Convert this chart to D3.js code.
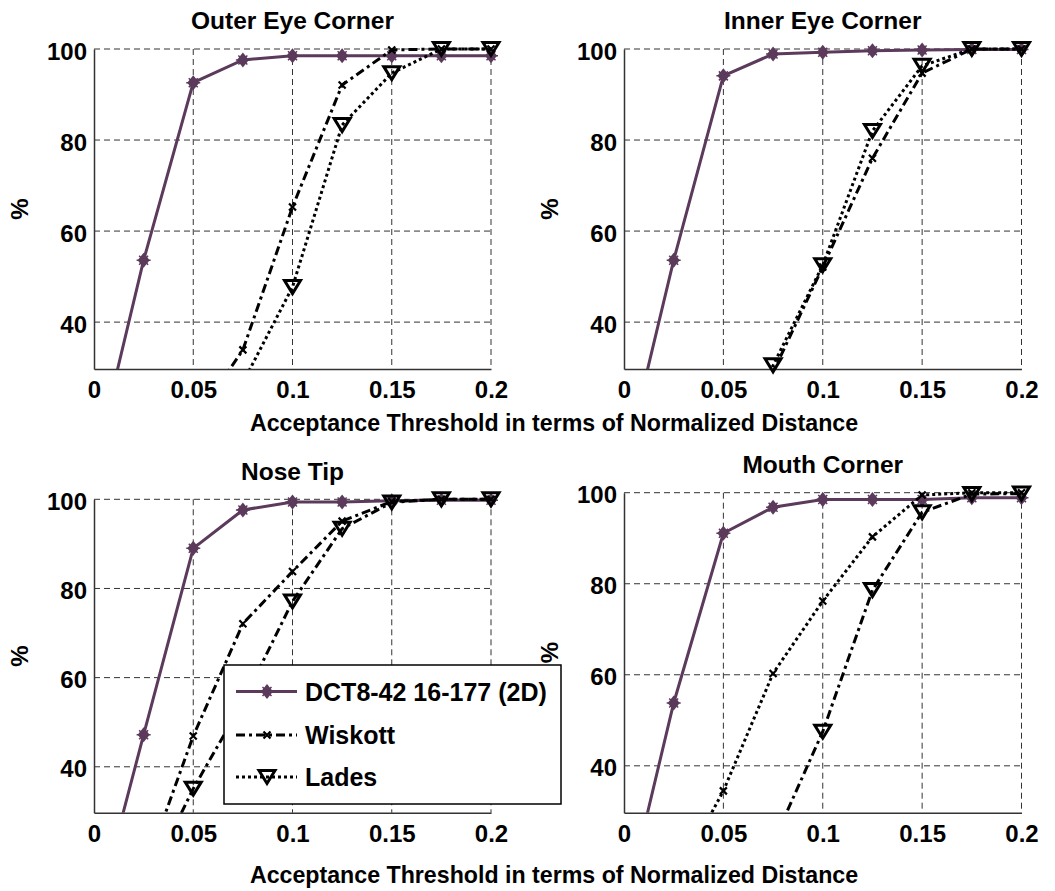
<!DOCTYPE html>
<html>
<head>
<meta charset="utf-8">
<script src="https://cdn.jsdelivr.net/npm/d3@7"></script>
<style>
  body { margin: 0; background: #fff; }
  text { font-family: "Liberation Sans", Arial, sans-serif; font-weight: bold; fill: #000; }
</style>
</head>
<body>
<div id="chart"></div>
<script>
// threshold values on the x axis
var thresholds = [0, 0.025, 0.05, 0.075, 0.1, 0.125, 0.15, 0.175, 0.2];
var xTicks = [0, 0.05, 0.1, 0.15, 0.2];
var yTicks = [40, 60, 80, 100];
var seriesNames = ["DCT8-42 16-177 (2D)", "Wiskott", "Lades"];
var panelTitles = ["Outer Eye Corner", "Inner Eye Corner", "Nose Tip", "Mouth Corner"];

// % of landmarks found
var outerDct = [8, 53.6, 92.6, 97.6, 98.5, 98.5, 98.5, 98.5, 98.5];
var outerWiskott = [0, 5, 18, 33.9, 65.3, 92.1, 99.8, 100, 100];
var outerLades = [0, 2, 10, 26.7, 47.7, 83.3, 94.7, 100, 100];

var innerDct = [8, 53.6, 94.1, 98.9, 99.3, 99.6, 99.8, 99.9, 99.9];
var innerWiskott = [0, 5, 15, 29, 52.1, 76, 94.7, 100, 100];
var innerLades = [0, 2, 10, 30.5, 52.5, 82, 96.3, 100, 100];

var noseDct = [4.7, 47.2, 89.0, 97.6, 99.4, 99.4, 99.7, 99.8, 99.8];
var noseWiskott = [0, 16.1, 46.9, 72.1, 83.8, 95.1, 99.5, 100, 100];
var noseLades = [0, 12.3, 35.1, 54.5, 77.1, 93.4, 99.3, 100, 100];

var mouthDct = [8, 53.8, 91.1, 96.8, 98.5, 98.5, 98.5, 98.9, 98.9];
var mouthWiskott = [0, 14.2, 34.5, 60.3, 76.2, 90.3, 99.5, 100, 100];
var mouthLades = [0, 5, 12, 23.1, 47.5, 78.6, 95.7, 99.7, 99.8];

var purple = "#5b3a5b";
var dashDot = "9,4,3,4";
var dotted = "3,3";

// subplot boxes (pixels)
var panels = [
  {left: 94, right: 491, top: 49, bottom: 369, titleY: 29, data: [outerDct, outerWiskott, outerLades], dash: [dashDot, dotted]},
  {left: 624, right: 1021.5, top: 49, bottom: 369, titleY: 29, data: [innerDct, innerWiskott, innerLades], dash: [dashDot, dotted]},
  {left: 94, right: 491, top: 499.3, bottom: 812.7, titleY: 480, data: [noseDct, noseWiskott, noseLades], dash: [dashDot, dashDot]},
  {left: 624, right: 1021.5, top: 492.7, bottom: 812.7, titleY: 473, data: [mouthDct, mouthWiskott, mouthLades], dash: [dotted, dashDot]}
];

var svg = d3.select("#chart")
  .append("svg")
  .attr("width", 1055)
  .attr("height", 891);

function drawMarker(g, kind, x, y) {
  if (kind === 0) {
    g.append("path")
      .attr("d", `M${x},${y - 7.5}L${x + 6},${y}L${x},${y + 7.5}L${x - 6},${y}Z`)
      .attr("fill", purple);
    g.append("path")
      .attr("d", `M${x - 7},${y}H${x + 7}M${x - 4.5},${y - 4.5}L${x + 4.5},${y + 4.5}M${x - 4.5},${y + 4.5}L${x + 4.5},${y - 4.5}`)
      .attr("stroke", purple)
      .attr("stroke-width", 1.5);
  }
  else if (kind === 1) {
    g.append("path")
      .attr("d", `M${x - 3.5},${y - 3.5}L${x + 3.5},${y + 3.5}M${x - 3.5},${y + 3.5}L${x + 3.5},${y - 3.5}`)
      .attr("stroke", "#000")
      .attr("stroke-width", 2.2);
  }
  else {
    g.append("path")
      .attr("d", `M${x - 8},${y - 6.5}L${x + 8},${y - 6.5}L${x},${y + 6.5}Z`)
      .attr("fill", "none")
      .attr("stroke", "#000")
      .attr("stroke-width", 3);
  }
}

panels.forEach(function(p, i) {
  var xScale = d3.scaleLinear().domain([0, 0.2]).range([p.left, p.right]);
  var yScale = d3.scaleLinear().domain([29.7, 100]).range([p.bottom, p.top]);

  var g = svg.append("g");

  // dashed grid
  g.selectAll(".vgrid")
    .data(xTicks.slice(1))
    .enter()
    .append("line")
    .attr("x1", d => xScale(d)).attr("x2", d => xScale(d))
    .attr("y1", p.top).attr("y2", p.bottom)
    .attr("stroke", "#333").attr("stroke-width", 1)
    .attr("stroke-dasharray", "6,4");

  g.selectAll(".hgrid")
    .data(yTicks)
    .enter()
    .append("line")
    .attr("x1", p.left).attr("x2", p.right)
    .attr("y1", d => yScale(d)).attr("y2", d => yScale(d))
    .attr("stroke", "#333").attr("stroke-width", 1)
    .attr("stroke-dasharray", "6,4");

  // axes
  var bottomAxis = d3.axisBottom(xScale).tickValues(xTicks).tickSize(0).tickPadding(12)
    .tickFormat(d => d === 0 ? "0" : String(d));
  var leftAxis = d3.axisLeft(yScale).tickValues(yTicks).tickSize(0).tickPadding(7);

  var xAxis = g.append("g")
    .attr("transform", `translate(0, ${p.bottom})`)
    .call(bottomAxis);
  var yAxis = g.append("g")
    .attr("transform", `translate(${p.left}, 0)`)
    .call(leftAxis);

  [xAxis, yAxis].forEach(function(a) {
    a.select(".domain").attr("stroke", "#333").attr("stroke-width", 1.5);
    a.selectAll("text").style("font-size", "24px").attr("fill", "#000");
  });
  xAxis.selectAll("text").attr("dy", "0.71em");
  yAxis.selectAll("text").attr("dy", "0.42em");

  // title and y label
  g.append("text")
    .attr("x", (p.left + p.right) / 2)
    .attr("y", p.titleY)
    .attr("text-anchor", "middle")
    .style("font-size", "24.5px")
    .text(panelTitles[i]);

  g.append("text")
    .attr("transform", `translate(${p.left - 66}, ${(p.top + p.bottom) / 2}) rotate(-90)`)
    .attr("text-anchor", "middle")
    .style("font-size", "24px")
    .text("%");

  // clipped lines
  var clipId = "clip" + i;
  svg.append("clipPath")
    .attr("id", clipId)
    .append("rect")
    .attr("x", p.left)
    .attr("y", p.top - 20)
    .attr("width", p.right - p.left + 20)
    .attr("height", p.bottom - p.top + 20);

  var line = d3.line()
    .x((d, j) => xScale(thresholds[j]))
    .y(d => yScale(d));

  p.data.forEach(function(values, s) {
    g.append("path")
      .datum(values)
      .attr("clip-path", `url(#${clipId})`)
      .attr("d", line)
      .attr("fill", "none")
      .attr("stroke", s === 0 ? purple : "#000")
      .attr("stroke-width", 3)
      .attr("stroke-dasharray", s === 0 ? null : p.dash[s - 1]);

    values.forEach(function(v, j) {
      if (v >= 29.7) drawMarker(g, s, xScale(thresholds[j]), yScale(v));
    });
  });
});

// shared x labels
[431, 883].forEach(function(y) {
  svg.append("text")
    .attr("x", 554)
    .attr("y", y)
    .attr("text-anchor", "middle")
    .style("font-size", "23.2px")
    .text("Acceptance Threshold in terms of Normalized Distance");
});

// legend sitting over the Nose Tip panel
var legend = svg.append("g");
legend.append("rect")
  .attr("x", 224).attr("y", 665)
  .attr("width", 337).attr("height", 139)
  .attr("fill", "#fff")
  .attr("stroke", "#000")
  .attr("stroke-width", 1.5);

var legendDash = [null, dashDot, dotted];
[691.5, 735, 777].forEach(function(y, s) {
  legend.append("line")
    .attr("x1", 236).attr("x2", 297)
    .attr("y1", y).attr("y2", y)
    .attr("stroke", s === 0 ? purple : "#000")
    .attr("stroke-width", 3)
    .attr("stroke-dasharray", legendDash[s]);
  drawMarker(legend, s, 267, y);
  legend.append("text")
    .attr("x", 305)
    .attr("y", y + 9)
    .style("font-size", "25px")
    .text(seriesNames[s]);
});
</script>
</body>
</html>
